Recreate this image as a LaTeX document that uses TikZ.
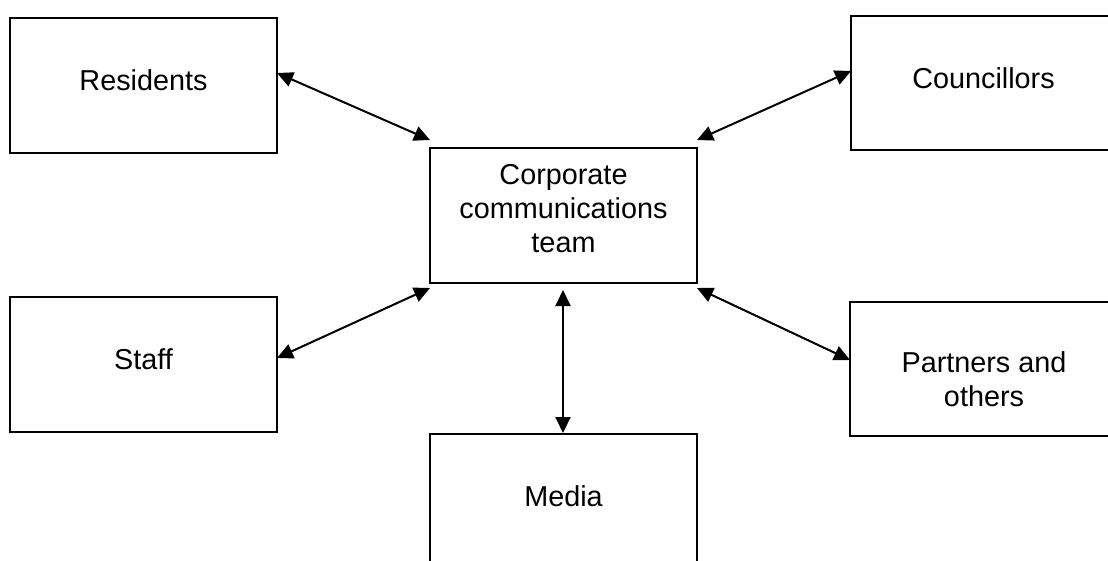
\documentclass[tikz,border=0pt]{standalone}
\usepackage{fontspec}
\setmainfont{Liberation Sans}
\usetikzlibrary{arrows.meta}
\begin{document}
\begin{tikzpicture}[x=1pt,y=-1pt,
  box/.style={draw, line width=2pt, rectangle, inner sep=0pt, minimum width=267pt, minimum height=135pt},
  lbl/.style={font=\fontsize{28.8}{33.8}\selectfont, anchor=base, align=center, inner sep=0pt},
  link/.style={line width=2pt, {Triangle[length=16pt,width=15pt]}-{Triangle[length=16pt,width=15pt]}}]
\useasboundingbox (0,0) rectangle (1108,560);
\clip (0,0) rectangle (1108,560);
% boxes
\node[box] (res) at (143.5,85.5) {};
\node[box, minimum height=134pt] (cou) at (984.5,83) {};
\node[box] (cct) at (563.5,215.5) {};
\node[box] (sta) at (143.5,364.5) {};
\node[box, minimum height=134pt] (par) at (983.5,369) {};
\node[box] (med) at (563.5,501.5) {};
% labels (base anchor = baseline of last line)
\node[lbl] (resT) at (143.5,90) {Residents};
\node[lbl] (couT) at (983.5,88) {Councillors};
\node[lbl] (cctT) at (563.5,252.5) {Corporate\\communications\\team};
\node[lbl] (staT) at (143.5,369) {Staff};
\node[lbl] (parT) at (984,406.5) {Partners and\\others};
\node[lbl] (medT) at (563.5,506) {Media};
% connector ends
\coordinate (rA) at (277,73);   \coordinate (rB) at (430,140);
\coordinate (cA) at (697,140);  \coordinate (cB) at (851,71);
\coordinate (sA) at (277,358);  \coordinate (sB) at (430,288);
\coordinate (pA) at (697,288);  \coordinate (pB) at (850,360);
\coordinate (mA) at (563,290);  \coordinate (mB) at (563,433);
\draw[link] (rA) -- (rB);
\draw[link] (cA) -- (cB);
\draw[link] (sA) -- (sB);
\draw[link] (pA) -- (pB);
\draw[link] (mA) -- (mB);
\end{tikzpicture}
\end{document}
